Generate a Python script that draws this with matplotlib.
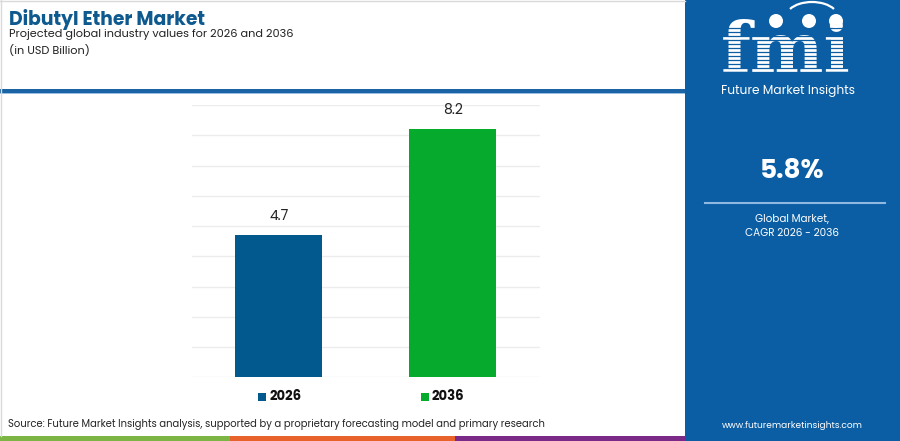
import matplotlib
matplotlib.use("Agg")
import matplotlib.pyplot as plt
from matplotlib.patches import Rectangle, Circle, Arc
from matplotlib.lines import Line2D

# ---- data ----
years = ["2026", "2036"]
values = [4.7, 8.2]
bar_colors = ["#01598e", "#06ab2e"]
cagr = "5.8%"
title = "Dibutyl Ether Market"
subtitle = "Projected global industry values for 2026 and 2036"
unit = "(in USD Billion)"
source = "Source: Future Market Insights analysis, supported by a proprietary forecasting model and primary research"

W, H = 900, 441
fig = plt.figure(figsize=(W / 100, H / 100), dpi=100)
fig.patch.set_facecolor("white")

def fx(px):
    return px / W

def fy(py):
    return 1 - py / H

FONT = ["Poppins", "Lato", "DejaVu Sans"]

# overlay axes for decorations in pixel coordinates
deco = fig.add_axes([0, 0, 1, 1], zorder=0)
deco.set_xlim(0, W)
deco.set_ylim(H, 0)
deco.axis("off")

# frame of left area
deco.add_line(Line2D([0, 685], [0.5, 0.5], color="#d9d9d9", lw=1))
deco.add_line(Line2D([0.5, 0.5], [0, 436], color="#d9d9d9", lw=1))
# blue separator line
deco.add_patch(Rectangle((0, 89), 685, 3.5, color="#1a64a6", lw=0))
deco.add_patch(Rectangle((0, 92.5), 685, 1.2, color="#9bbfe0", lw=0))

# bottom strip
deco.add_patch(Rectangle((0, 436), 230, 5, color="#7cb544", lw=0))
deco.add_patch(Rectangle((230, 436), 225, 5, color="#e8622c", lw=0))
deco.add_patch(Rectangle((455, 436), 230, 5, color="#7c2a88", lw=0))

# right panel
panel_blue = "#0b5ea4"
deco.add_patch(Rectangle((685, 0), 215, 441, color=panel_blue, lw=0))

# logo
deco.text(786, 53, "fmi", ha="center", va="center", color="white",
          fontsize=50, fontweight="bold", family="DejaVu Serif", zorder=3)
for yy in range(28, 78, 4):
    deco.add_line(Line2D([716, 858], [yy, yy], color=panel_blue, lw=0.9, zorder=4))
for cx in (776, 809, 836):
    deco.add_patch(Circle((cx, 21), 7, color="white", lw=0, zorder=5))
deco.add_patch(Arc((812, 17), 52, 30, theta1=200, theta2=340, color="white", lw=1.6, zorder=5))
deco.text(788, 91, "Future Market Insights", ha="center", va="center",
          color="white", fontsize=8.8, family=FONT)

deco.text(792, 171, cagr, ha="center", va="center", color="white",
          fontsize=19, fontweight="bold", family=FONT)
deco.add_line(Line2D([705, 885], [203, 203], color="#8fb9e0", lw=1.5))
deco.text(792, 220, "Global Market,", ha="center", va="center", color="white",
          fontsize=7.5, family=FONT)
deco.text(792, 234, "CAGR 2026 - 2036", ha="center", va="center", color="white",
          fontsize=7.5, family=FONT)
deco.text(792, 425, "www.futuremarketinsights.com", ha="center", va="center",
          color="white", fontsize=6.5, family=FONT)

# titles
deco.text(9, 19, title, ha="left", va="center", color="#0e5a8e",
          fontsize=13.5, fontweight="bold", family=FONT)
deco.text(9, 35, subtitle, ha="left", va="center", color="#222222",
          fontsize=8.1, family=FONT)
deco.text(9, 51, unit, ha="left", va="center", color="#222222",
          fontsize=8.1, family=FONT)
deco.text(8, 425, source, ha="left", va="center", color="#222222",
          fontsize=7.2, family=FONT)

# legend
for lx, yr, c in ((258, years[0], bar_colors[0]), (421, years[1], bar_colors[1])):
    deco.add_patch(Rectangle((lx, 393), 7.5, 8, color=c, lw=0))
    deco.text(lx + 11, 397, yr, ha="left", va="center", color="#111111",
              fontsize=9.5, fontweight="bold", family=FONT)

# ---- chart ----
ax = fig.add_axes([fx(191.7), fy(377.3), fx(540) - fx(191.7), fy(105) - fy(377.3)], zorder=1)
ax.patch.set_alpha(0)
x = list(range(len(years)))
bars = ax.bar(x, values, width=0.5, color=bar_colors, zorder=2)
ax.set_xlim(-0.5, len(years) - 0.5)
ax.set_ylim(0, 9)
ax.set_yticks(range(0, 10))
ax.grid(axis="y", color="#ececec", lw=1, zorder=0)
for s in ax.spines.values():
    s.set_visible(False)
ax.set_xticks([])
ax.tick_params(axis="y", length=0, labelleft=False)
for b, v in zip(bars, values):
    ax.annotate(f"{v}", (b.get_x() + b.get_width() / 2, v), xytext=(0, 8),
                textcoords="offset points", ha="center", va="bottom",
                fontsize=10, color="#222222", family=FONT)

fig.savefig("out.png", dpi=100, facecolor="white")
